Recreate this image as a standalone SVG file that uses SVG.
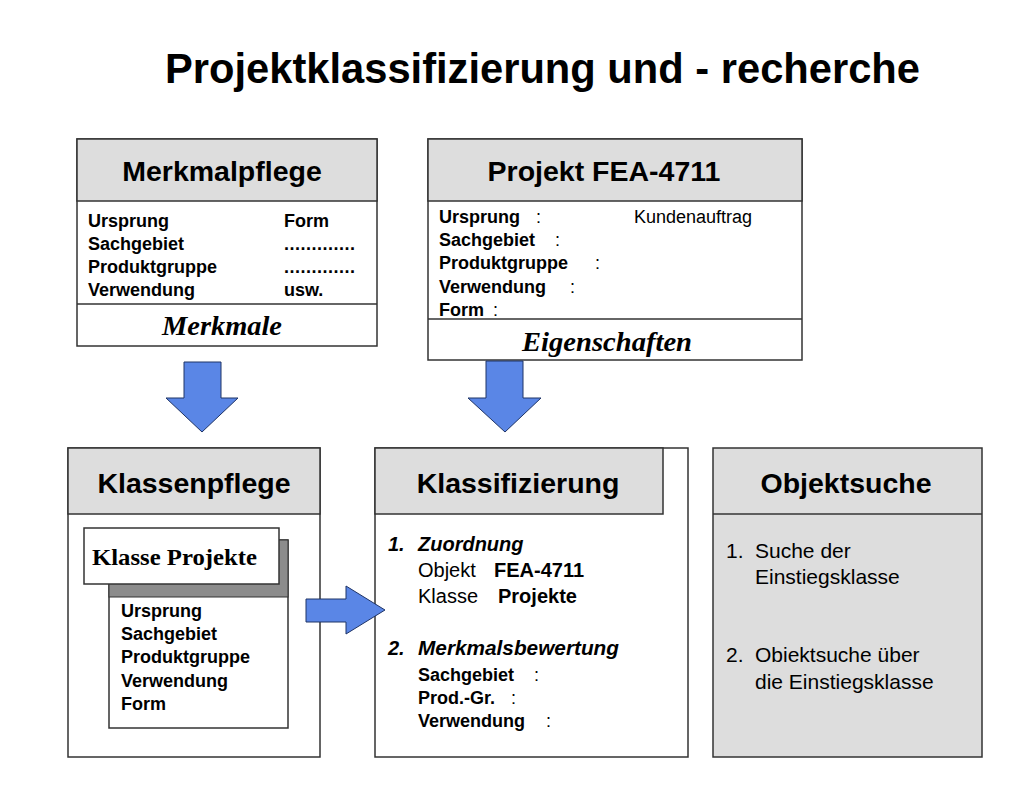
<svg xmlns="http://www.w3.org/2000/svg" width="1024" height="787" viewBox="0 0 1024 787">
<style>
.box{fill:#ffffff;stroke:#333333;stroke-width:1.5}
.hdr{fill:#dddddd;stroke:#333333;stroke-width:1.5}
.gbox{fill:#dddddd;stroke:#333333;stroke-width:1.5}
.shadow{fill:#8c8c8c;stroke:#333333;stroke-width:1}
.arrow{fill:#5a86e6;stroke:#1f3466;stroke-width:1}
text{font-family:"Liberation Sans",Arial,sans-serif;fill:#000000}
.title{font-size:42px;font-weight:bold}
.h{font-size:28.5px;font-weight:bold;text-anchor:middle}
.b{font-size:18px;font-weight:bold}
.r{font-size:18px}
.r20{font-size:20px}
.b20{font-size:20px;font-weight:bold}
.bi{font-size:20px;font-weight:bold;font-style:italic}
.r21{font-size:21px}
.serif{font-family:"Liberation Serif","Times New Roman",serif;font-weight:bold;font-style:italic;font-size:27px;text-anchor:middle}
.serifb{font-family:"Liberation Serif","Times New Roman",serif;font-weight:bold;font-size:23px}
</style>
<rect width="1024" height="787" fill="#ffffff"/>
<text class="title" x="165" y="83" textLength="755" lengthAdjust="spacingAndGlyphs">Projektklassifizierung und - recherche</text>

<g id="merkmalpflege">
<rect class="box" x="77" y="139" width="300" height="207"/>
<rect class="hdr" x="77" y="139" width="300" height="62"/>
<line x1="77" y1="304" x2="377" y2="304" stroke="#333333" stroke-width="1.5"/>
<text class="h" x="222" y="181">Merkmalpflege</text>
<text class="b" x="88" y="227">Ursprung</text>
<text class="b" x="88" y="250">Sachgebiet</text>
<text class="b" x="88" y="273">Produktgruppe</text>
<text class="b" x="88" y="296">Verwendung</text>
<text class="b" x="284" y="227">Form</text>
<text class="b" x="284" y="250" textLength="71" lengthAdjust="spacing">.............</text>
<text class="b" x="284" y="273" textLength="71" lengthAdjust="spacing">.............</text>
<text class="b" x="284" y="296">usw.</text>
<text class="serif" x="222" y="335" textLength="120" lengthAdjust="spacingAndGlyphs">Merkmale</text>
</g>

<g id="projekt">
<rect class="box" x="428" y="139" width="374" height="221"/>
<rect class="hdr" x="428" y="139" width="374" height="62"/>
<line x1="428" y1="319" x2="802" y2="319" stroke="#333333" stroke-width="1.5"/>
<text class="h" x="604" y="181">Projekt FEA-4711</text>
<text class="b" x="439" y="223">Ursprung</text>
<text class="r" x="536" y="223">:</text>
<text class="r" x="634" y="223">Kundenauftrag</text>
<text class="b" x="439" y="246">Sachgebiet</text>
<text class="r" x="555" y="246">:</text>
<text class="b" x="439" y="269">Produktgruppe</text>
<text class="r" x="595" y="269">:</text>
<text class="b" x="439" y="293">Verwendung</text>
<text class="r" x="570" y="293">:</text>
<text class="b" x="439" y="316">Form</text>
<text class="r" x="493" y="316">:</text>
<text class="serif" x="607" y="351" textLength="170" lengthAdjust="spacingAndGlyphs">Eigenschaften</text>
</g>

<g id="klassenpflege">
<rect class="box" x="68" y="448" width="252" height="309"/>
<rect class="hdr" x="68" y="448" width="252" height="66"/>
<text class="h" x="194" y="493">Klassenpflege</text>
<rect class="box" x="109" y="540" width="179" height="188"/>
<rect class="shadow" x="109" y="540" width="179" height="57"/>
<rect class="box" x="84" y="528" width="195" height="56"/>
<text class="serifb" x="92" y="565" textLength="165" lengthAdjust="spacingAndGlyphs">Klasse Projekte</text>
<text class="b" x="121" y="617">Ursprung</text>
<text class="b" x="121" y="640">Sachgebiet</text>
<text class="b" x="121" y="663">Produktgruppe</text>
<text class="b" x="121" y="687">Verwendung</text>
<text class="b" x="121" y="710">Form</text>
</g>

<g id="klassifizierung">
<rect class="box" x="375" y="448" width="313" height="309"/>
<rect class="hdr" x="375" y="448" width="288" height="66"/>
<text class="h" x="518" y="493">Klassifizierung</text>
<text class="bi" x="388" y="551">1.</text>
<text class="bi" x="418" y="551">Zuordnung</text>
<text class="r20" x="418" y="577">Objekt</text>
<text class="b20" x="494" y="577">FEA-4711</text>
<text class="r20" x="418" y="603">Klasse</text>
<text class="b20" x="498" y="603">Projekte</text>
<text class="bi" x="388" y="655">2.</text>
<text class="bi" x="418" y="655" textLength="201" lengthAdjust="spacingAndGlyphs">Merkmalsbewertung</text>
<text class="b" x="418" y="681">Sachgebiet</text>
<text class="r" x="534" y="681">:</text>
<text class="b" x="418" y="704">Prod.-Gr.</text>
<text class="r" x="511" y="704">:</text>
<text class="b" x="418" y="727">Verwendung</text>
<text class="r" x="546" y="727">:</text>
</g>

<g id="objektsuche">
<rect class="gbox" x="713" y="448" width="269" height="309"/>
<line x1="713" y1="514" x2="982" y2="514" stroke="#333333" stroke-width="1.5"/>
<text class="h" x="846" y="493">Objektsuche</text>
<text class="r21" x="726" y="558">1.</text>
<text class="r21" x="755" y="558">Suche der</text>
<text class="r21" x="755" y="584">Einstiegsklasse</text>
<text class="r21" x="726" y="662">2.</text>
<text class="r21" x="755" y="662">Obiektsuche über</text>
<text class="r21" x="755" y="689">die Einstiegsklasse</text>
</g>

<g id="connectors">
<polygon class="arrow" points="184,362 221,362 221,398 238,398 202,432 166,398 184,398"/>
<polygon class="arrow" points="486,361 523,361 523,398 541,398 505,432 468,398 486,398"/>
<polygon class="arrow" points="306,599 346,599 346,586 385,610 346,634 346,622 306,622"/>
</g>
</svg>
